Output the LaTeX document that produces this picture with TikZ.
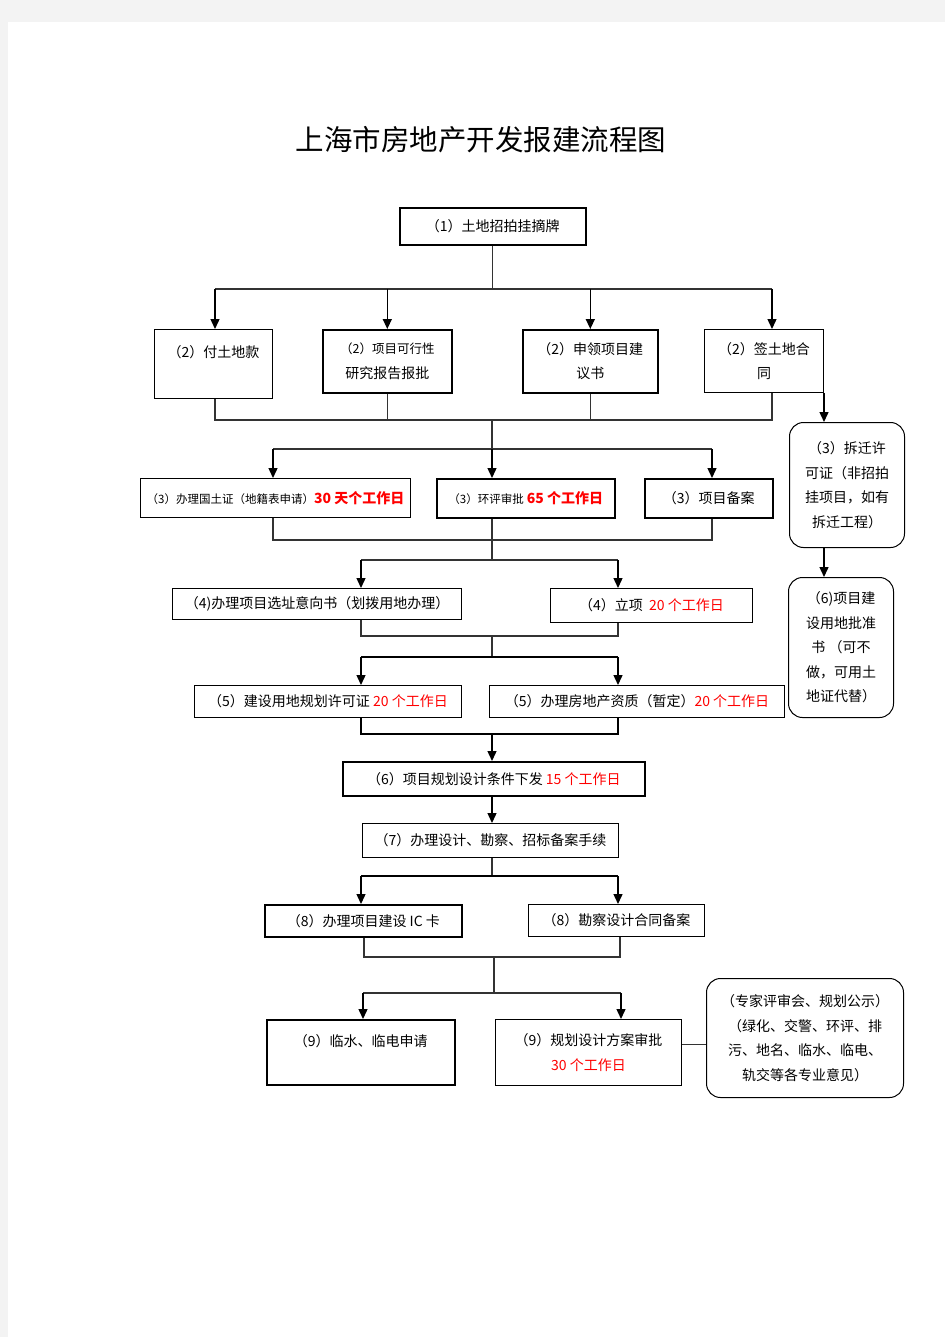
\documentclass[tikz,border=0pt]{standalone}
\usepackage{fontspec}
\usepackage{tikz}
\usetikzlibrary{arrows.meta}
\newfontfamily\cjk{Noto Sans CJK SC}
\definecolor{pagegray}{RGB}{243,243,243}
\definecolor{dayred}{RGB}{255,0,0}
\newcommand{\days}[1]{\textcolor{dayred}{#1}}
\newcommand{\smalltxt}{\fontsize{11.5}{13}\selectfont}

\begin{document}
\begin{tikzpicture}[x=1pt,y=-1pt,
  stepbox/.style={draw, line width=1pt, inner sep=0pt, anchor=north west, align=center,
    font=\cjk\fontsize{14}{24.5}\selectfont},
  heavybox/.style={stepbox, line width=1.6pt},
  roundbox/.style={stepbox, rounded corners=14pt},
  boxsize/.style 2 args={minimum width=#1pt, minimum height=#2pt},
  bus/.style={line width=1.1pt, draw=black!80},
  arr/.style={line width=1.4pt, -{Triangle[length=10pt,width=9pt]}}]
\useasboundingbox (0,0) rectangle (945,1337);
\fill[pagegray] (0,0) rectangle (945,1337);
\fill[white] (8,22) rectangle (945,1337);

\node[font=\cjk\fontsize{28.5}{30}\selectfont] (title) at (481,140) {上海市房地产开发报建流程图};

\node[heavybox, boxsize={186}{37}] (b1) at (399,207) {（1）土地招拍挂摘牌};

\node[stepbox, boxsize={118}{69}] (b2a) at (154,329) {（2）付土地款\\ \mbox{}};
\node[heavybox, boxsize={129}{63}] (b2b) at (322,329) {{\fontsize{12.5}{24.5}\selectfont（2）项目可行性}\\研究报告报批};
\node[heavybox, boxsize={135}{63}] (b2c) at (522,329) {（2）申领项目建\\议书};
\node[stepbox, boxsize={119}{63}] (b2d) at (704,329) {（2）签土地合\\同};
\node[roundbox, boxsize={115}{125}] (r3) at (789,422) {（3）拆迁许\\可证（非招拍\\挂项目，如有\\拆迁工程）};

\node[stepbox, boxsize={270}{39}] (b3a) at (140,478) {{\smalltxt（3）办理国土证（地籍表申请）}{\bfseries\days{30 天个工作日}}};
\node[heavybox, boxsize={178}{39}] (b3b) at (436,478) {{\smalltxt（3）环评审批} {\bfseries\days{65 个工作日}}};
\node[heavybox, boxsize={128}{39}] (b3c) at (644,478) {（3）项目备案};

\node[stepbox, boxsize={289}{31}] (b4a) at (172,588) {（4)办理项目选址意向书（划拨用地办理）};
\node[stepbox, boxsize={202}{34}] (b4b) at (550,588) {（4）立项 \ \days{20 个工作日}};
\node[roundbox, boxsize={105}{140}] (r6) at (788,577) {（6)项目建\\设用地批准\\书 （可不\\做，可用土\\地证代替）};

\node[stepbox, boxsize={267}{32}] (b5a) at (194,685) {（5）建设用地规划许可证 \days{20 个工作日}};
\node[stepbox, boxsize={295}{32}] (b5b) at (489,685) {（5）办理房地产资质（暂定）\days{20 个工作日}};

\node[heavybox, boxsize={302}{34}] (b6) at (342,761) {（6）项目规划设计条件下发 \days{15 个工作日}};
\node[stepbox, boxsize={256}{34}] (b7) at (362,823) {（7）办理设计、勘察、招标备案手续};

\node[heavybox, boxsize={197}{32}] (b8a) at (264,904) {（8）办理项目建设 IC 卡};
\node[stepbox, boxsize={176}{32}] (b8b) at (528,904) {（8）勘察设计合同备案};

\node[heavybox, boxsize={188}{65}] (b9a) at (266,1019) {（9）临水、临电申请\\ \mbox{}};
\node[stepbox, boxsize={186}{66}] (b9b) at (495,1019) {（9）规划设计方案审批\\\days{30 个工作日}};
\node[roundbox, boxsize={197}{119}] (r9) at (706,978) {（专家评审会、规划公示）\\（绿化、交警、环评、排\\污、地名、临水、临电、\\轨交等各专业意见）};

\coordinate (t1l) at (215,289); \coordinate (t1r) at (772,289);
\coordinate (t2l) at (215,420); \coordinate (t2r) at (772,420); \coordinate (m2) at (492,420);
\coordinate (t3l) at (273,449); \coordinate (t3r) at (712,449); \coordinate (m3) at (492,449);
\coordinate (t4l) at (273,540); \coordinate (t4r) at (712,540); \coordinate (m4) at (492,540);
\coordinate (t5l) at (361,560); \coordinate (t5r) at (618,560); \coordinate (m5) at (492,560);
\coordinate (t6l) at (361,636); \coordinate (t6r) at (618,636); \coordinate (m6) at (492,636);
\coordinate (t7l) at (361,657); \coordinate (t7r) at (618,657); \coordinate (m7) at (492,657);
\coordinate (t8l) at (361,734); \coordinate (t8r) at (618,734); \coordinate (m8) at (492,734);
\coordinate (t9l) at (361,876); \coordinate (t9r) at (618,876); \coordinate (m9) at (492,876);
\coordinate (t10l) at (364,957); \coordinate (t10r) at (620,957); \coordinate (m10) at (494,957);
\coordinate (t11l) at (363,993); \coordinate (t11r) at (621,993); \coordinate (m11) at (494,993);

\draw[bus] (b1.south) -- (b1.south |- t1l);
\draw[bus] (t1l) -- (t1r);
\draw[arr] (t1l) -- (t1l |- b2a.north);
\draw[arr] (b2b.north |- t1l) -- (b2b.north);
\draw[arr] (b2c.north |- t1l) -- (b2c.north);
\draw[arr] (t1r) -- (t1r |- b2d.north);

\draw[bus] (t2l |- b2a.south) -- (t2l) -- (t2r) -- (t2r |- b2d.south);
\draw[bus] (b2b.south) -- (b2b.south |- t2l);
\draw[bus] (b2c.south) -- (b2c.south |- t2l);
\draw[arr] (b2d.south east) -- (b2d.south east |- r3.north);

\draw[bus] (m2) -- (m3);
\draw[bus] (t3l) -- (t3r);
\draw[arr] (t3l) -- (t3l |- b3a.north);
\draw[arr] (m3) -- (m3 |- b3b.north);
\draw[arr] (t3r) -- (t3r |- b3c.north);

\draw[bus] (t4l |- b3a.south) -- (t4l) -- (t4r) -- (t4r |- b3c.south);
\draw[bus] (m3 |- b3b.south) -- (m4);
\draw[arr] (b2d.south east |- r3.south) -- (b2d.south east |- r6.north);

\draw[bus] (m4) -- (m5);
\draw[bus] (t5l) -- (t5r);
\draw[arr] (t5l) -- (t5l |- b4a.north);
\draw[arr] (t5r) -- (t5r |- b4b.north);

\draw[bus] (t6l |- b4a.south) -- (t6l) -- (t6r) -- (t6r |- b4b.south);
\draw[bus] (m6) -- (m7);
\draw[bus, line width=1.8pt, draw=black] (t7l) -- (t7r);
\draw[arr] (t7l) -- (t7l |- b5a.north);
\draw[arr] (t7r) -- (t7r |- b5b.north);

\draw[bus, line width=1.6pt, draw=black] (t8l |- b5a.south) -- (t8l) -- (t8r) -- (t8r |- b5b.south);
\draw[arr] (m8) -- (m8 |- b6.north);
\draw[arr] (m8 |- b6.south) -- (m8 |- b7.north);

\draw[bus] (m8 |- b7.south) -- (m9);
\draw[bus, line width=1.8pt, draw=black] (t9l) -- (t9r);
\draw[arr] (t9l) -- (t9l |- b8a.north);
\draw[arr] (t9r) -- (t9r |- b8b.north);

\draw[bus] (t10l |- b8a.south) -- (t10l) -- (t10r) -- (t10r |- b8b.south);
\draw[bus] (m10) -- (m11);
\draw[bus] (t11l) -- (t11r);
\draw[arr] (t11l) -- (t11l |- b9a.north);
\draw[arr] (t11r) -- (t11r |- b9b.north);
\draw[bus] ([yshift=8pt]b9b.east) -- ([yshift=8pt]b9b.east -| r9.west);
\end{tikzpicture}
\end{document}
